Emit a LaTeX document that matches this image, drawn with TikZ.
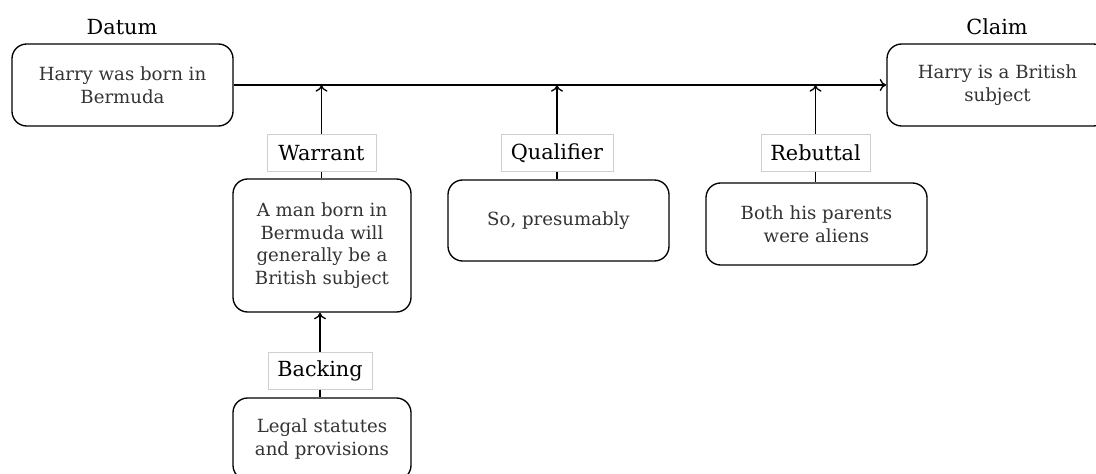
\documentclass[tikz,border=0pt]{standalone}
\usepackage{fontspec}
\setmainfont{DejaVu Serif}
\usetikzlibrary{arrows.meta}
\definecolor{boxtext}{HTML}{333333}
\definecolor{tagedge}{HTML}{CFCFCF}
\begin{document}
\begin{tikzpicture}[x=0.75pt,y=-0.75pt,
  claimbox/.style={draw=black, line width=1pt, rounded corners=11pt,
    fill=white, align=center, inner sep=0pt, text=boxtext,
    font=\fontsize{13.6}{17}\selectfont},
  tagbox/.style={draw=tagedge, line width=0.5pt, fill=white, inner sep=0pt,
    minimum height=28pt, font=\fontsize{15.6}{18}\selectfont},
  heading/.style={font=\fontsize{15.6}{18}\selectfont, inner sep=0pt},
  link/.style={line width=1.1pt, draw=black},
  tip/.style={link, -{To[length=5pt, width=9pt, line width=1pt]}}
]
\clip (0,0) rectangle (1096,474);
\fill[white] (0,0) rectangle (1096,474);

% top row: datum and claim
\node[claimbox, minimum width=165.75pt, minimum height=61.5pt] (datum) at (122.5,85)
  {Harry was born in\\Bermuda};
\node[claimbox, minimum width=165.75pt, minimum height=61.5pt] (claim) at (997.5,85)
  {Harry is a British\\subject};
\node[heading] (datumlbl) at (122,27) {Datum};
\node[heading] (claimlbl) at (997,27) {Claim};

% supporting elements
\node[claimbox, minimum width=133.5pt, minimum height=99.75pt] (warrant) at (322,245.5)
  {A man born in\\Bermuda will\\generally be a\\British subject};
\node[claimbox, minimum width=165.75pt, minimum height=60.75pt] (qualifier) at (558.5,220.5)
  {So, presumably};
\node[claimbox, minimum width=165.75pt, minimum height=61.5pt] (rebuttal) at (816.5,224)
  {Both his parents\\were aliens};
\node[claimbox, minimum width=133.5pt, minimum height=61.5pt] (backing) at (322,439)
  {Legal statutes\\and provisions};

% tags
\node[tagbox, minimum width=81.75pt] (warranttag) at (321.5,153) {Warrant};
\node[tagbox, minimum width=84pt] (qualifiertag) at (557,153) {Qualifier};
\node[tagbox, minimum width=81.75pt] (rebuttaltag) at (815.5,153) {Rebuttal};
\node[tagbox, minimum width=78pt] (backingtag) at (320,370.5) {Backing};

% main inference line
\draw[tip] (datum.east) -- (claim.west);

% tags feeding into the main line
\draw[tip] (warranttag.north) -- (warranttag.north |- datum.east);
\draw[tip] (qualifiertag.north) -- (qualifiertag.north |- datum.east);
\draw[tip] (rebuttaltag.north) -- (rebuttaltag.north |- datum.east);
\draw[tip] (backingtag.north) -- (backingtag.north |- warrant.south);

% boxes hanging from their tags
\draw[link] (warranttag.south) -- (warranttag.south |- warrant.north);
\draw[link] (qualifiertag.south) -- (qualifiertag.south |- qualifier.north);
\draw[link] (rebuttaltag.south) -- (rebuttaltag.south |- rebuttal.north);
\draw[link] (backingtag.south) -- (backingtag.south |- backing.north);
\end{tikzpicture}
\end{document}
